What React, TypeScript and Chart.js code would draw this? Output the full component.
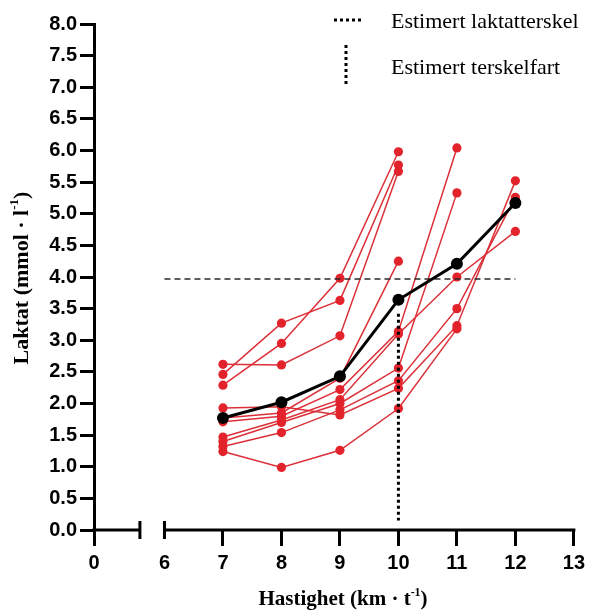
import React, { useEffect, useRef } from "react";
import { Chart, registerables } from "chart.js";

Chart.register(...registerables);

// ---- data ----
const SPEEDS = [7, 8, 9, 10, 11, 12];
const MEAN = [1.77, 2.02, 2.43, 3.64, 4.21, 5.17];

const S1 = [2.62, 2.61, 3.07, 5.67];
const S2 = [2.46, 3.27, 3.63, 5.77];
const S3 = [2.29, 2.95, 3.98, 5.98];
const S4 = [1.77, 1.85, 2.4, 4.25];
const S5 = [1.71, 1.8, 2.22, 3.14, 6.04];
const S6 = [1.4, 1.7, 2.0, 2.56, 5.33];
const S7 = [1.24, 0.99, 1.26, 1.92, 3.18];
const S8 = [1.47, 1.74, 2.06, 3.1, 4.0, 4.72];
const S9 = [1.32, 1.54, 1.9, 2.36, 3.5, 5.26];
const S10 = [1.93, 1.95, 1.82, 2.24, 3.23, 5.52];
const SUBJECTS = [S1, S2, S3, S4, S5, S6, S7, S8, S9, S10];

const LACTATE_THRESHOLD = 3.97;
const LACTATE_LINE_X = [6, 12];
const SPEED_THRESHOLD = 10;
const SPEED_LINE_Y = [3.42, 0.15];

const X_TICKS = [6, 7, 8, 9, 10, 11, 12, 13];
const X_ZERO_LABEL = "0";
const Y_MIN = 0;
const Y_MAX = 8;
const Y_STEP = 0.5;

const LEGEND_LABELS = ["Estimert laktatterskel", "Estimert terskelfart"];

// ---- scale layout config ----
const X_MIN = 4.795;
const X_MAX = 13;
const AXIS_BREAK = [5.58, 6];

const RED = "#E3232C";
const RED_LINE = "#DC3038";

const toPoints = (ys: number[]) => ys.map((y, i) => ({ x: SPEEDS[i], y }));

function drawSupText(
  ctx: CanvasRenderingContext2D,
  parts: { t: string; sup?: boolean }[],
  font: string,
  supFont: string,
  cx: number,
  cy: number
) {
  let total = 0;
  const widths = parts.map((p) => {
    ctx.font = p.sup ? supFont : font;
    const w = ctx.measureText(p.t).width;
    total += w;
    return w;
  });
  let x = cx - total / 2;
  ctx.textBaseline = "middle";
  ctx.textAlign = "left";
  parts.forEach((p, i) => {
    ctx.font = p.sup ? supFont : font;
    ctx.fillText(p.t, x, p.sup ? cy - 7 : cy);
    x += widths[i];
  });
}

const decorPlugin = {
  id: "decor",
  afterDraw(chart: any) {
    const ctx: CanvasRenderingContext2D = chart.ctx;
    const xs = chart.scales.x;
    const ys = chart.scales.y;
    const y0 = ys.getPixelForValue(0);
    ctx.save();
    ctx.strokeStyle = "#000";
    ctx.fillStyle = "#000";
    ctx.lineWidth = 3;
    ctx.lineCap = "butt";
    // broken x axis
    const left = xs.getPixelForValue(X_MIN) - 1.5;
    const b1 = xs.getPixelForValue(AXIS_BREAK[0]);
    const b2 = xs.getPixelForValue(AXIS_BREAK[1]);
    const right = xs.getPixelForValue(X_MAX) + 1.5;
    ctx.beginPath();
    ctx.moveTo(left, y0);
    ctx.lineTo(b1, y0);
    ctx.moveTo(b2, y0);
    ctx.lineTo(right, y0);
    ctx.stroke();
    ctx.beginPath();
    ctx.moveTo(b1, y0 - 9);
    ctx.lineTo(b1, y0 + 9);
    ctx.moveTo(b2, y0 - 9);
    ctx.lineTo(b2, y0 + 9);
    ctx.stroke();

    // titles
    drawSupText(
      ctx,
      [{ t: "Hastighet (km · t" }, { t: "-1", sup: true }, { t: ")" }],
      "bold 21px 'Liberation Serif', serif",
      "bold 12px 'Liberation Serif', serif",
      343,
      600
    );
    ctx.save();
    ctx.translate(22, 278);
    ctx.rotate(-Math.PI / 2);
    drawSupText(
      ctx,
      [{ t: "Laktat (mmol · l" }, { t: "-1", sup: true }, { t: ")" }],
      "bold 22px 'Liberation Serif', serif",
      "bold 13px 'Liberation Serif', serif",
      0,
      0
    );
    ctx.restore();

    // legend
    ctx.font = "22px 'Liberation Serif', serif";
    ctx.textAlign = "left";
    ctx.textBaseline = "middle";
    ctx.fillText(LEGEND_LABELS[0], 391, 22);
    ctx.fillText(LEGEND_LABELS[1], 391, 68);
    ctx.lineWidth = 3;
    ctx.setLineDash([3, 3]);
    ctx.beginPath();
    ctx.moveTo(334, 20);
    ctx.lineTo(362, 20);
    ctx.stroke();
    ctx.beginPath();
    ctx.moveTo(346, 45);
    ctx.lineTo(346, 87);
    ctx.stroke();
    ctx.restore();
  },
};

export default function App() {
  const ref = useRef<HTMLCanvasElement | null>(null);
  useEffect(() => {
    if (!ref.current) return;
    const datasets: any[] = [
      {
        data: toPoints(MEAN),
        borderColor: "#000",
        backgroundColor: "#000",
        borderWidth: 3,
        pointRadius: 6,
        pointBorderWidth: 0,
      },
      {
        data: LACTATE_LINE_X.map((x) => ({ x, y: LACTATE_THRESHOLD })),
        borderColor: "#2a2a2a",
        borderWidth: 1.5,
        borderDash: [6, 4],
        pointRadius: 0,
      },
      {
        data: SPEED_LINE_Y.map((y) => ({ x: SPEED_THRESHOLD, y })),
        borderColor: "#000",
        borderWidth: 3,
        borderDash: [3, 3],
        pointRadius: 0,
      },
      ...SUBJECTS.map((s) => ({
        data: toPoints(s),
        borderColor: RED_LINE,
        backgroundColor: RED,
        borderWidth: 1.5,
        pointRadius: 4.6,
        pointBorderWidth: 0,
      })),
    ];
    const chart = new Chart(ref.current, {
      type: "line",
      data: { datasets },
      plugins: [decorPlugin],
      options: {
        animation: false,
        responsive: false,
        events: [],
        layout: { padding: { left: 0, right: 12, top: 24, bottom: 0 } },
        plugins: { legend: { display: false }, tooltip: { enabled: false } },
        elements: { line: { tension: 0 } },
        scales: {
          x: {
            type: "linear",
            min: X_MIN,
            max: X_MAX,
            afterBuildTicks: (scale: any) => {
              scale.ticks = [X_MIN, ...X_TICKS].map((v) => ({ value: v }));
            },
            afterFit: (scale: any) => {
              scale.height = 85;
            },
            border: { display: false },
            grid: {
              drawOnChartArea: false,
              drawTicks: true,
              tickLength: 16,
              tickWidth: 3,
              tickColor: (c: any) =>
                c.tick && c.tick.value === AXIS_BREAK[1] ? "rgba(0,0,0,0)" : "#000",
            },
            ticks: {
              color: "#000",
              padding: 5,
              maxRotation: 0,
              autoSkip: false,
              font: { family: "'Liberation Sans', Arial, sans-serif", size: 20, weight: "bold" },
              callback: (v: any) => (v === X_MIN ? X_ZERO_LABEL : String(v)),
            },
          },
          y: {
            min: Y_MIN,
            max: Y_MAX,
            afterFit: (scale: any) => {
              scale.width = 94;
            },
            border: { display: true, width: 3, color: "#000" },
            grid: {
              drawOnChartArea: false,
              drawTicks: true,
              tickLength: 14,
              tickWidth: 3,
              tickColor: "#000",
            },
            ticks: {
              stepSize: Y_STEP,
              color: "#000",
              padding: 3,
              font: { family: "'Liberation Sans', Arial, sans-serif", size: 20, weight: "bold" },
              callback: (v: any) => Number(v).toFixed(1),
            },
          },
        },
      },
    } as any);
    return () => chart.destroy();
  }, []);
  return (
    <div style={{ position: "fixed", left: 0, top: 0, width: 590, height: 615, background: "#fff" }}>
      <canvas ref={ref} width={590} height={615} style={{ display: "block" }} />
    </div>
  );
}
